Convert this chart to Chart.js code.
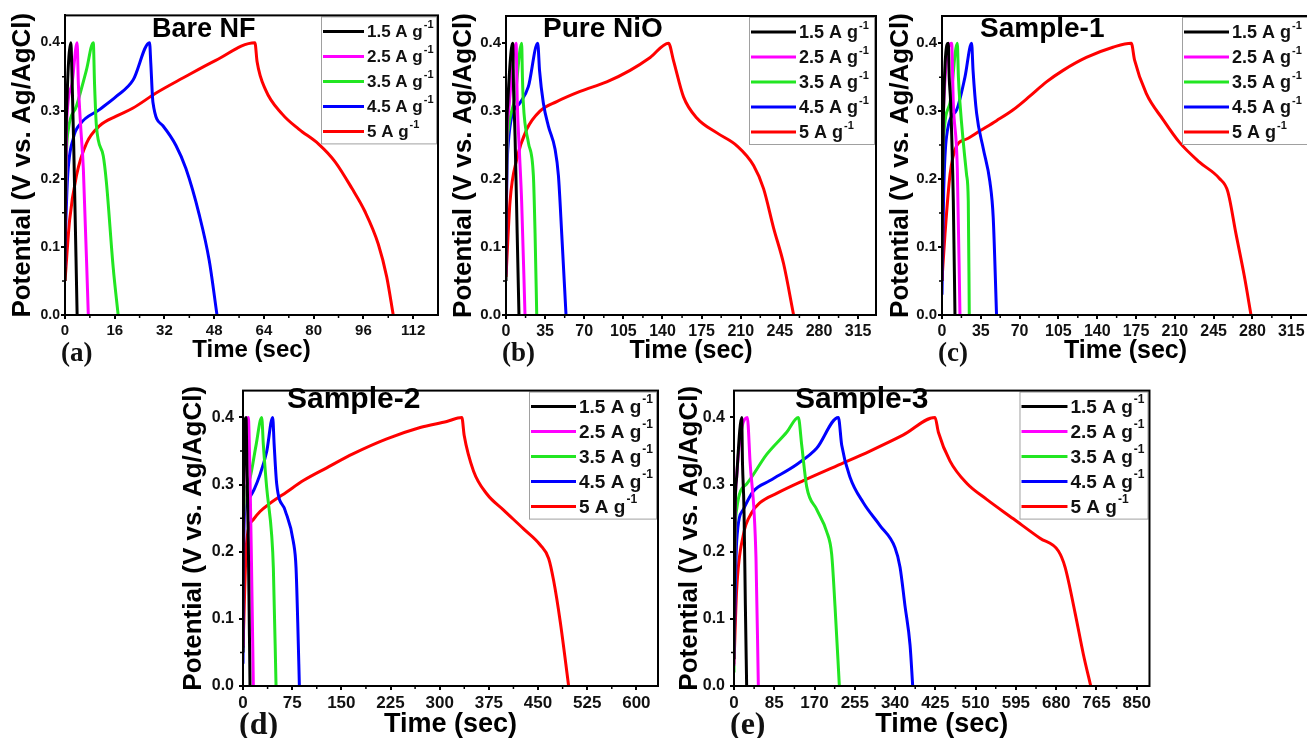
<!DOCTYPE html>
<html>
<head>
<meta charset="utf-8">
<title>GCD curves</title>
<script src="https://cdn.jsdelivr.net/npm/chart.js@4.4.0/dist/chart.umd.min.js"></script>
<style>
  html, body { margin: 0; overflow: hidden; }
  body { width: 1307px; height: 738px; position: relative; background: #fff;
         font-family: 'Liberation Sans', Arial, sans-serif; }
  .panel { position: absolute; }
  .ttl { position: absolute; font-weight: bold; line-height: 1; white-space: nowrap; color: #000; }
  .tag { position: absolute; font-family: 'Liberation Serif', 'Times New Roman', serif;
         font-weight: bold; line-height: 1; color: #111; }
</style>
</head>
<body>
<script>
// current densities (A/g) and the colour used for each
const currents = ['1.5', '2.5', '3.5', '4.5', '5'];
const lineColors = ['#000000', '#ff00ff', '#22e622', '#0000ff', '#ff0000'];

// charge/discharge curves, [time (s), potential (V)], one list per current density
const bareNF = [
  [[0,0.05],[0.2,0.22],[0.6,0.31],[1.9,0.40],[2.2,0.36],[2.8,0.25],[3.9,0]],
  [[0,0.07],[0.5,0.28],[2.1,0.336],[3.9,0.40],[4.3,0.34],[5.0,0.28],[5.9,0.215],[7.5,0]],
  [[0,0.12],[0.5,0.24],[1.1,0.273],[3.7,0.307],[6.9,0.36],[9.1,0.40],[9.5,0.34],[10.1,0.278],[12.3,0.234],[13.3,0.196],[15.5,0.07],[17.1,0]],
  [[0,0.10],[0.8,0.20],[2.7,0.26],[4.8,0.28],[11.2,0.302],[16.5,0.321],[21.9,0.345],[27.2,0.40],[27.6,0.37],[28.3,0.312],[31.5,0.278],[35.7,0.249],[38.9,0.215],[43.2,0.147],[46.4,0.08],[48.9,0]],
  [[0,0.05],[1.5,0.14],[3.7,0.205],[6.9,0.252],[11.2,0.278],[16.5,0.292],[21.9,0.304],[29.3,0.326],[37.9,0.348],[48.5,0.374],[61.1,0.40],[61.8,0.372],[64.5,0.331],[69.9,0.295],[75.2,0.273],[81.6,0.251],[86.9,0.225],[92.3,0.186],[96.5,0.152],[100.8,0.104],[103.5,0.056],[105.6,0]]
];

const pureNiO = [
  [[0,0.05],[0.5,0.25],[1.5,0.31],[6,0.40],[6.8,0.33],[8.1,0.263],[10,0.12],[11.6,0]],
  [[0,0.06],[0.7,0.25],[2.1,0.297],[9,0.40],[10.1,0.312],[12,0.24],[14,0.167],[17,0]],
  [[0,0.13],[0.8,0.24],[2.1,0.273],[8.1,0.321],[14,0.40],[14.7,0.35],[15.5,0.312],[20,0.254],[24.5,0.205],[26,0.12],[27.5,0]],
  [[0,0.12],[1,0.22],[2.1,0.254],[5.1,0.292],[12.5,0.312],[20,0.336],[28.4,0.40],[30,0.36],[33.4,0.312],[37.9,0.278],[43.9,0.244],[46.9,0.205],[49.9,0.118],[53.7,0]],
  [[0,0.056],[3.6,0.167],[9.6,0.229],[18.5,0.273],[30.4,0.30],[45.4,0.314],[66.3,0.329],[90.1,0.343],[111,0.36],[129,0.379],[145.4,0.40],[149.9,0.374],[158.8,0.321],[170.7,0.29],[188.7,0.268],[206.6,0.249],[221.5,0.22],[230.4,0.186],[239.4,0.128],[248.4,0.075],[257.3,0]]
];

const sample1 = [
  [[0,0.05],[0.5,0.20],[1.2,0.288],[5.7,0.40],[6.5,0.35],[7.8,0.312],[10.2,0.168],[11.7,0]],
  [[0,0.05],[0.5,0.22],[1.2,0.297],[8.7,0.40],[10.2,0.312],[13.8,0.216],[16.2,0]],
  [[0,0.10],[0.5,0.20],[1.2,0.254],[7.2,0.312],[13.8,0.40],[14.8,0.35],[16.2,0.312],[22.2,0.206],[23.7,0.168],[24.6,0]],
  [[0,0.03],[1.5,0.18],[4.2,0.264],[13.2,0.302],[20.7,0.35],[26.7,0.40],[28,0.36],[31.2,0.297],[37.2,0.245],[43.2,0.196],[46.2,0.143],[49.2,0]],
  [[0,0.052],[2.7,0.119],[7.2,0.206],[13.2,0.249],[22.2,0.259],[34.2,0.271],[49.2,0.286],[64.2,0.302],[79.2,0.322],[94.2,0.343],[109.2,0.36],[130.2,0.379],[154.2,0.394],[170.7,0.40],[173.7,0.375],[184.2,0.326],[199.2,0.288],[214.2,0.254],[232.2,0.225],[250.2,0.201],[257.7,0.182],[265.2,0.119],[272.7,0.057],[278.7,0]]
];

const sample2 = [
  [[0,0.05],[0.8,0.28],[4.6,0.40],[6,0.33],[8.1,0.215],[10.7,0]],
  [[0,0.06],[1.5,0.31],[8.1,0.40],[10.7,0.31],[13,0.18],[15.8,0]],
  [[0,0.12],[0.5,0.22],[1.5,0.262],[10.7,0.31],[19.8,0.358],[28.5,0.40],[31,0.36],[36.1,0.296],[43.8,0.224],[46.3,0.176],[50.4,0]],
  [[0,0.033],[1,0.20],[3,0.262],[10.7,0.282],[26,0.315],[36.1,0.349],[45.3,0.40],[47.5,0.36],[51.4,0.301],[64.1,0.262],[76.8,0.215],[80.9,0.176],[83.5,0.095],[86,0]],
  [[0,0.057],[5.6,0.215],[15.8,0.248],[26,0.26],[41.2,0.272],[66.7,0.289],[92,0.306],[127.7,0.325],[168.4,0.346],[219.3,0.368],[270.2,0.385],[310.9,0.394],[333.8,0.40],[337.4,0.373],[351.7,0.32],[372,0.286],[397.5,0.262],[428,0.234],[453.4,0.21],[466.2,0.19],[473.8,0.157],[484,0.095],[496.7,0]]
];

const sample3 = [
  [[0,0.04],[2,0.25],[5.6,0.311],[16.2,0.40],[18,0.33],[21.1,0.263],[24,0.12],[26.7,0]],
  [[0,0.03],[2,0.24],[5.6,0.311],[28.1,0.40],[33.8,0.335],[46.4,0.191],[51.4,0]],
  [[0,0.02],[2,0.20],[5.6,0.263],[26.7,0.301],[69,0.345],[111.2,0.378],[135.8,0.40],[142.9,0.359],[153.4,0.297],[174.5,0.263],[195.6,0.23],[206.2,0.196],[213.2,0.119],[222.4,0]],
  [[0,0.047],[5.6,0.215],[19.7,0.263],[40.8,0.29],[76,0.306],[132.3,0.33],[174.5,0.354],[220.3,0.40],[227.3,0.359],[244.9,0.311],[273,0.273],[308.2,0.239],[339.9,0.206],[350.5,0.177],[361,0.119],[371.6,0.061],[377.2,0]],
  [[0,0.033],[5.6,0.143],[19.7,0.225],[37.3,0.258],[54.9,0.273],[90,0.287],[146.4,0.306],[216.7,0.328],[287.1,0.35],[357.5,0.374],[424.3,0.40],[431.4,0.378],[456,0.335],[491.2,0.302],[533.4,0.278],[589.7,0.249],[646,0.22],[684.7,0.201],[698.8,0.177],[719.9,0.109],[737.5,0.047],[753,0]]
];

// tick values of each time axis, and of the potential axis
const ticksA = [0, 16, 32, 48, 64, 80, 96, 112];
const ticksB = [0, 35, 70, 105, 140, 175, 210, 245, 280, 315];
const ticksC = [0, 35, 70, 105, 140, 175, 210, 245, 280, 315];
const ticksD = [0, 75, 150, 225, 300, 375, 450, 525, 600];
const ticksE = [0, 85, 170, 255, 340, 425, 510, 595, 680, 765, 850];
const potentialTicks = [0, 0.1, 0.2, 0.3, 0.4];

const yMax = 0.44;

// plot area [left, top, right, bottom] in page pixels, k = text scale
const panels = [
  { title: 'Bare NF',  tag: '(a)', curves: bareNF,  xTicks: ticksA, xMax: 120, area: [65, 12, 438, 315],   k: 1,    titleX: 152, legW: 115, legLine: 41, yOff: 42, xOff: 35 },
  { title: 'Pure NiO', tag: '(b)', curves: pureNiO, xTicks: ticksB, xMax: 331, area: [506, 12, 876, 315],  k: 1.05, titleX: 543, legW: 125, legLine: 45, yOff: 42, xOff: 36 },
  { title: 'Sample-1', tag: '(c)', curves: sample1, xTicks: ticksC, xMax: 331, area: [942, 12, 1309, 315], k: 1.05, titleX: 980, legW: 125, legLine: 45, yOff: 41, xOff: 36 },
  { title: 'Sample-2', tag: '(d)', curves: sample2, xTicks: ticksD, xMax: 633, area: [243, 382, 658, 686], k: 1.12, titleX: 287, legW: 127, legLine: 45, yOff: 49, xOff: 39 },
  { title: 'Sample-3', tag: '(e)', curves: sample3, xTicks: ticksE, xMax: 877, area: [734, 382, 1150, 686], k: 1.12, titleX: 795, legW: 128, legLine: 46, yOff: 44, xOff: 39 }
];

const SANS = "'Liberation Sans', Arial, sans-serif";
const NARROW = "'Liberation Sans Narrow', 'Liberation Sans', Arial, sans-serif";

// legend drawn inside the plot, top right corner
const insetLegend = {
  id: 'insetLegend',
  afterDatasetsDraw(chart, args, opts) {
    const { ctx, chartArea: a } = chart;
    const fs = opts.fontSize;
    const w = opts.width, h = 127;
    const x0 = a.right - 2 - w, y0 = a.top + 1;
    ctx.save();
    ctx.fillStyle = '#fff';
    ctx.fillRect(x0, y0, w, h);
    ctx.strokeStyle = '#a0a0a0';
    ctx.lineWidth = 1;
    ctx.strokeRect(x0 + 0.5, y0 + 0.5, w, h);
    chart.data.datasets.forEach((ds, i) => {
      const y = y0 + 15 + i * 25;
      ctx.strokeStyle = ds.borderColor;
      ctx.lineWidth = 3;
      ctx.beginPath();
      ctx.moveTo(x0 + 2, y);
      ctx.lineTo(x0 + 2 + opts.lineLen, y);
      ctx.stroke();
      const tx = x0 + opts.lineLen + 5;
      const main = currents[i] + ' A g';
      ctx.fillStyle = '#111';
      ctx.textBaseline = 'middle';
      ctx.font = `bold ${fs}px ${SANS}`;
      ctx.fillText(main, tx, y + 1);
      const mw = ctx.measureText(main).width;
      ctx.font = `bold ${Math.round(fs * 0.62)}px ${SANS}`;
      ctx.fillText('-1', tx + mw + 1, y - fs * 0.36);
    });
    ctx.restore();
  }
};

// minor ticks halfway between the major ones, plus the closed frame
const frameAndMinor = {
  id: 'frameAndMinor',
  afterDraw(chart) {
    const { ctx, chartArea: a, scales: { x, y } } = chart;
    const xs = x.ticks.map(t => t.value);
    const ys = y.ticks.map(t => t.value);
    ctx.save();
    ctx.strokeStyle = '#000';
    ctx.lineWidth = 1.5;
    ctx.beginPath();
    const xStep = xs[1] - xs[0];
    for (let v = xStep / 2; v < x.max; v += xStep) {
      const px = x.getPixelForValue(v);
      ctx.moveTo(px, a.bottom);
      ctx.lineTo(px, a.bottom + 3);
    }
    const yStep = ys[1] - ys[0];
    for (let v = yStep / 2; v < y.max; v += yStep) {
      const py = y.getPixelForValue(v);
      ctx.moveTo(a.left, py);
      ctx.lineTo(a.left - 3, py);
    }
    ctx.stroke();
    ctx.lineWidth = 2;
    ctx.strokeRect(a.left, a.top, a.right - a.left, a.bottom - a.top);
    ctx.restore();
  }
};

const LEFT = 70, BOTTOM = 60, TOP = 6, RIGHT = 4;

panels.forEach(p => {
  const [L, T, R, B] = p.area;
  const box = document.createElement('div');
  box.className = 'panel';
  box.style.left = (L - LEFT) + 'px';
  box.style.top = (T - TOP) + 'px';
  box.style.width = (R - L + LEFT + RIGHT) + 'px';
  box.style.height = (B - T + TOP + BOTTOM) + 'px';
  const canvas = document.createElement('canvas');
  box.appendChild(canvas);
  document.body.appendChild(box);

  const k = p.k;
  const yTitleFont = 26, xTitleFont = Math.round(24 * k);

  new Chart(canvas, {
    type: 'scatter',
    data: {
      datasets: p.curves.map((c, i) => ({
        label: currents[i] + ' A g⁻¹',
        data: c.map(([t, v]) => ({ x: t, y: v })),
        showLine: true,
        borderColor: lineColors[i],
        backgroundColor: lineColors[i],
        borderWidth: 3,
        pointRadius: 0,
        cubicInterpolationMode: 'monotone',
        fill: false
      }))
    },
    options: {
      responsive: true,
      maintainAspectRatio: false,
      animation: false,
      layout: { padding: { top: TOP, right: RIGHT, left: 0, bottom: 0 } },
      plugins: {
        legend: { display: false },
        tooltip: { enabled: false },
        insetLegend: { width: p.legW, lineLen: p.legLine, fontSize: Math.round(17 * k) }
      },
      scales: {
        x: {
          type: 'linear',
          min: 0,
          max: p.xMax,
          afterFit(s) { s.height = BOTTOM; },
          afterBuildTicks(s) { s.ticks = p.xTicks.map(v => ({ value: v })); },
          ticks: {
            autoSkip: false,
            maxRotation: 0,
            color: '#111',
            padding: 3,
            font: { family: NARROW, size: Math.round(15 * k), weight: 'bold' }
          },
          grid: { drawOnChartArea: false, drawTicks: true, tickLength: 4, color: '#000', lineWidth: 2 },
          border: { color: '#000', width: 2 },
          title: {
            display: true,
            text: 'Time (sec)',
            color: '#000',
            font: { family: SANS, size: xTitleFont, weight: 'bold' },
            padding: { top: 0, bottom: BOTTOM - xTitleFont * 0.6 - p.xOff }
          }
        },
        y: {
          type: 'linear',
          min: 0,
          max: yMax,
          afterFit(s) { s.width = LEFT; },
          afterBuildTicks(s) { s.ticks = potentialTicks.map(v => ({ value: v })); },
          ticks: {
            autoSkip: false,
            color: '#111',
            padding: k > 1.1 ? 5 : 1,
            font: { family: NARROW, size: Math.round(14 * k), weight: 'bold' },
            callback: v => v.toFixed(1)
          },
          grid: { drawOnChartArea: false, drawTicks: true, tickLength: 4, color: '#000', lineWidth: 2 },
          border: { color: '#000', width: 2 },
          title: {
            display: true,
            text: 'Potential (V vs. Ag/AgCl)',
            color: '#000',
            font: { family: SANS, size: yTitleFont, weight: 'bold' },
            padding: { top: LEFT - p.yOff - yTitleFont * 0.6, bottom: 0 }
          }
        }
      }
    },
    plugins: [insetLegend, frameAndMinor]
  });

  // sample name inside the plot
  const ttl = document.createElement('div');
  ttl.className = 'ttl';
  const tSize = Math.round(27 * k);
  ttl.style.fontSize = tSize + 'px';
  ttl.style.left = p.titleX + 'px';
  ttl.style.top = (T + 16 - tSize * 0.49) + 'px';
  ttl.textContent = p.title;
  document.body.appendChild(ttl);

  // panel letter under the axis
  const tag = document.createElement('div');
  tag.className = 'tag';
  const gSize = Math.round(27 * (k > 1.1 ? 1.2 : 1));
  tag.style.fontSize = gSize + 'px';
  tag.style.left = (L - 4) + 'px';
  tag.style.top = (B + 40 - gSize * 0.59) + 'px';
  tag.textContent = p.tag;
  document.body.appendChild(tag);
});
</script>
</body>
</html>
